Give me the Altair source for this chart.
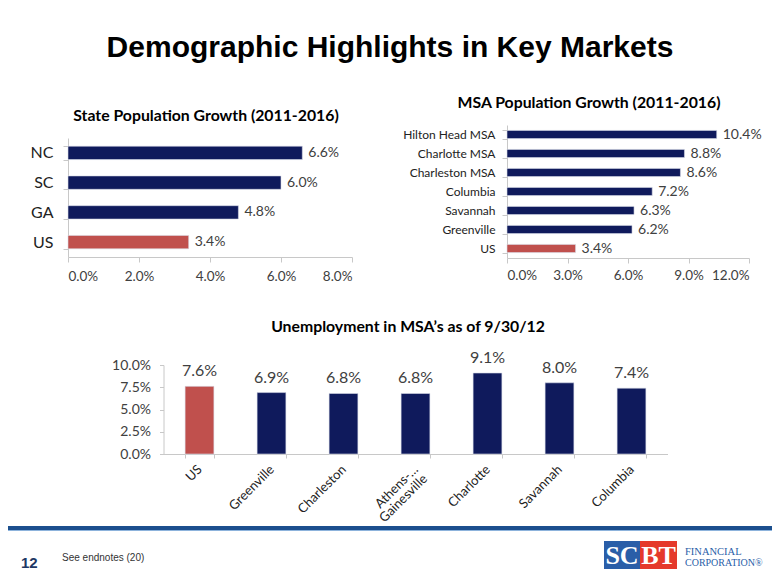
import altair as alt
import pandas as pd

NAVY = "#0f1a5c"
RED = "#c0504d"
AXC = "#c8c8c8"
LAB = "#404040"
FONT = "Lato"
W, H = 764, 569

state_cats = ["NC", "SC", "GA", "US"]
state_vals = [6.6, 6.0, 4.8, 3.4]
state_ticks = [0, 2, 4, 6, 8]

msa_cats = ["Hilton Head MSA", "Charlotte MSA", "Charleston MSA", "Columbia",
            "Savannah", "Greenville", "US"]
msa_vals = [10.4, 8.8, 8.6, 7.2, 6.3, 6.2, 3.4]
msa_ticks = [0, 3, 6, 9, 12]

unemp_cats = ["US", "Greenville", "Charleston", "Athens-Gainesville",
              "Charlotte", "Savannah", "Columbia"]
unemp_vals = [7.6, 6.9, 6.8, 6.8, 9.1, 8.0, 7.4]
unemp_ticks = [0, 2.5, 5, 7.5, 10]

pct1 = "format(datum.value, '.1f') + '%'"
color_cond = alt.condition(alt.datum.cat == "US", alt.value(RED), alt.value(NAVY))


def ax(**kw):
    base = dict(grid=False, title=None, domainColor=AXC, tickColor=AXC,
                labelFont=FONT, labelColor=LAB)
    base.update(kw)
    return alt.Axis(**base)


# ---- State population growth ----
state_df = pd.DataFrame({"cat": state_cats, "val": state_vals})
s_x = alt.Scale(domain=[0, 8], range=[60, 344])
s_y = alt.Scale(domain=state_cats, range=[130, 249], paddingInner=0.55, paddingOuter=0.275)
state_bars = alt.Chart(state_df).mark_bar(stroke="#d8dbe8", strokeWidth=0.6).encode(
    x=alt.X("val:Q", scale=s_x,
            axis=ax(orient="bottom", offset=249 - H, values=state_ticks, labelExpr=pct1,
                    tickSize=5, labelFontSize=13.5, labelPadding=7)),
    y=alt.Y("cat:N", scale=s_y,
            axis=ax(orient="left", offset=-60, tickBand="extent", tickSize=5,
                    labelFontSize=16, labelPadding=10, labelColor="#222222")),
    color=color_cond,
)
state_text = alt.Chart(state_df).transform_calculate(
    lbl="format(datum.val, '.1f') + '%'").mark_text(
    align="left", dx=6, font=FONT, fontSize=14, color=LAB).encode(
    x=alt.X("val:Q", scale=s_x, axis=None),
    y=alt.Y("cat:N", scale=s_y, axis=None),
    text="lbl:N",
)

# ---- MSA population growth ----
msa_df = pd.DataFrame({"cat": msa_cats, "val": msa_vals})
m_x = alt.Scale(domain=[0, 12], range=[499, 741])
m_y = alt.Scale(domain=msa_cats, range=[117, 250], paddingInner=0.57, paddingOuter=0.285)
msa_bars = alt.Chart(msa_df).mark_bar(stroke="#d8dbe8", strokeWidth=0.6).encode(
    x=alt.X("val:Q", scale=m_x,
            axis=ax(orient="bottom", offset=250 - H, values=msa_ticks, labelExpr=pct1,
                    tickSize=5, labelFontSize=13.5, labelPadding=5)),
    y=alt.Y("cat:N", scale=m_y,
            axis=ax(orient="left", offset=-499, tickBand="extent", tickSize=5,
                    labelFontSize=12, labelPadding=7, labelColor="#222222")),
    color=color_cond,
)
msa_text = alt.Chart(msa_df).transform_calculate(
    lbl="format(datum.val, '.1f') + '%'").mark_text(
    align="left", dx=6, font=FONT, fontSize=14, color=LAB).encode(
    x=alt.X("val:Q", scale=m_x, axis=None),
    y=alt.Y("cat:N", scale=m_y, axis=None),
    text="lbl:N",
)

# ---- Unemployment ----
un_df = pd.DataFrame({"cat": unemp_cats, "val": unemp_vals})
u_x = alt.Scale(domain=unemp_cats, range=[155.5, 659.5], paddingInner=0.6, paddingOuter=0.3)
u_y = alt.Scale(domain=[0, 10], range=[446, 357])
xlab = "datum.label == 'Athens-Gainesville' ? ['Athens-\u2026', 'Gainesville'] : datum.label"
un_bars = alt.Chart(un_df).mark_bar(stroke="#d8dbe8", strokeWidth=0.6).encode(
    x=alt.X("cat:N", scale=u_x,
            axis=ax(orient="bottom", offset=446 - H, tickBand="extent", tickSize=4,
                    labelAngle=-45, labelAlign="right", labelBaseline="middle",
                    labelFontSize=13, labelPadding=9, labelExpr=xlab,
                    labelColor="#222222", labelLineHeight=13)),
    y=alt.Y("val:Q", scale=u_y,
            axis=ax(orient="left", offset=-155.5, values=unemp_ticks, labelExpr=pct1,
                    tickSize=4, labelFontSize=14, labelPadding=9)),
    color=color_cond,
)
un_text = alt.Chart(un_df).transform_calculate(
    lbl="format(datum.val, '.1f') + '%'").mark_text(
    baseline="bottom", dy=-7, font=FONT, fontSize=16, color=LAB).encode(
    x=alt.X("cat:N", scale=u_x, axis=None),
    y=alt.Y("val:Q", scale=u_y, axis=None),
    text="lbl:N",
)


# ---- Static texts ----
def label(txt, x, y, **kw):
    return alt.Chart(pd.DataFrame({"t": [txt]})).mark_text(**kw).encode(
        x=alt.value(x), y=alt.value(y), text="t:N")


main_title = label("Demographic Highlights in Key Markets", 382, 40,
                   font="Liberation Sans", fontSize=30, fontWeight="bold", color="#000000")
t_state = label("State Population Growth (2011-2016)", 198, 108,
                font=FONT, fontSize=15.8, fontWeight="bold", color="#000000")
t_msa = label("MSA Population Growth (2011-2016)", 581, 95,
              font=FONT, fontSize=15.8, fontWeight="bold", color="#000000")
t_un = label("Unemployment in MSA\u2019s as of 9/30/12", 400, 319,
             font=FONT, fontSize=15.8, fontWeight="bold", color="#000000")

page_no = label("12", 13, 555, align="left", font="Liberation Sans", fontSize=15,
                fontWeight="bold", color="#1f3864")
endnote = label("See endnotes (20)", 54, 550, align="left", font="Liberation Sans",
                fontSize=10, color="#333333")

rule_df = pd.DataFrame({"k": [0]})
line_main = alt.Chart(rule_df).mark_rule(color="#1c4f8e", strokeWidth=4).encode(
    x=alt.value(0), x2=alt.value(W), y=alt.value(520))
line_light = alt.Chart(rule_df).mark_rule(color="#8db3dc", strokeWidth=1).encode(
    x=alt.value(0), x2=alt.value(W), y=alt.value(522.5))

logo_blue = alt.Chart(rule_df).mark_rect(color="#2a5ea8").encode(
    x=alt.value(596), x2=alt.value(632), y=alt.value(533), y2=alt.value(561))
logo_red = alt.Chart(rule_df).mark_rect(color="#e5392b").encode(
    x=alt.value(632), x2=alt.value(669), y=alt.value(533), y2=alt.value(561))
logo_sc = label("SC", 614, 548, font="Liberation Serif", fontSize=26, fontWeight="bold",
                color="#ffffff", baseline="middle")
logo_bt = label("BT", 650.5, 548, font="Liberation Serif", fontSize=26, fontWeight="bold",
                color="#ffffff", baseline="middle")
logo_fin = label("FINANCIAL", 677, 544, align="left", font="Liberation Serif", fontSize=10.5,
                 color="#2a5ea8")
logo_corp = label("CORPORATION\u00ae", 677, 555, align="left", font="Liberation Serif",
                  fontSize=10, color="#2a5ea8")

chart = alt.layer(
    state_bars, state_text, msa_bars, msa_text, un_bars, un_text,
    main_title, t_state, t_msa, t_un, page_no, endnote, line_main, line_light,
    logo_blue, logo_red, logo_sc, logo_bt, logo_fin, logo_corp,
).resolve_scale(x="independent", y="independent").properties(
    width=W, height=H, autosize=alt.AutoSizeParams(type="none"), padding=0,
    background="#ffffff",
).configure_view(stroke=None)

chart.save("out.html", embed_options={"renderer": "svg", "actions": False})
